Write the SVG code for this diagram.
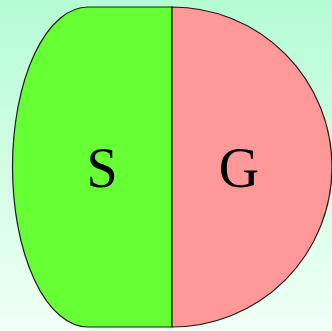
<svg xmlns="http://www.w3.org/2000/svg" width="332" height="331" viewBox="0 0 332 331">
  <defs>
    <linearGradient id="bg" x1="0" y1="0" x2="0" y2="1">
      <stop offset="0" stop-color="#b4fcd4"/>
      <stop offset="1" stop-color="#f0fff6"/>
    </linearGradient>
  </defs>
  <style>
    .region { stroke: #1a1a1a; stroke-width: 1.2; }
    .label { font-family: "Liberation Serif", "Times New Roman", serif; font-size: 56px; fill: #000; text-anchor: middle; }
  </style>
  <rect x="0" y="0" width="332" height="331" fill="url(#bg)"/>
  <g id="node-S">
    <path class="region" fill="#66ff33" d="M172,7 L88,7 A75.5,160 0 0 0 88,327 L172,327 Z"/>
    <text class="label" x="102" y="187">S</text>
  </g>
  <g id="node-G">
    <path class="region" fill="#ff9999" d="M172,7 A160,160 0 0 1 172,327 Z"/>
    <text class="label" x="239" y="187">G</text>
  </g>
</svg>
